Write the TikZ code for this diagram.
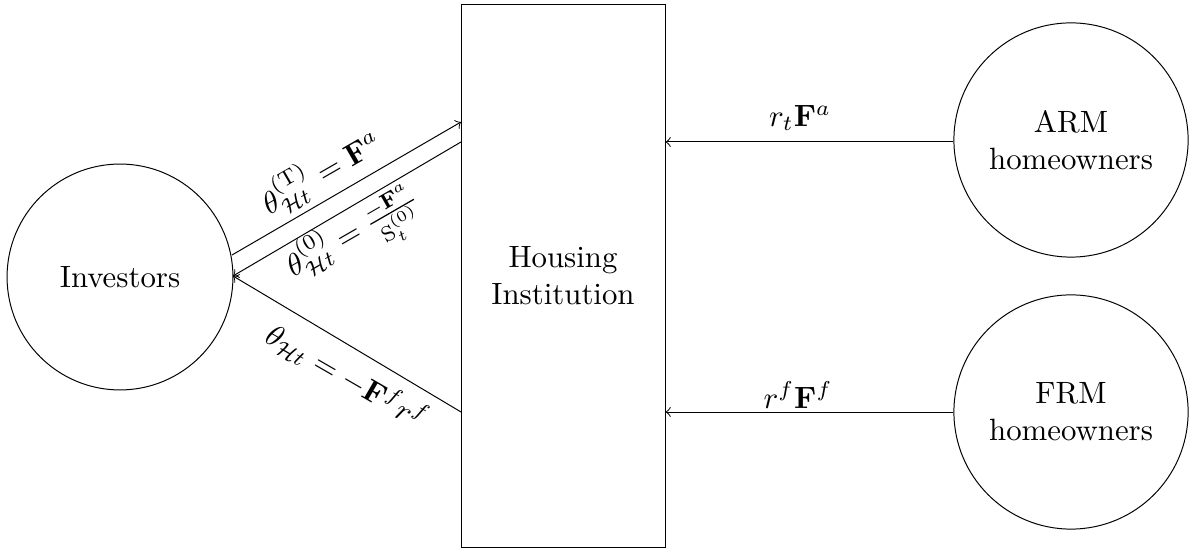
\documentclass[tikz,border=0pt]{standalone}
\usepackage{amsmath}
\begin{document}
\begin{tikzpicture}[x=0.3245pt,y=-0.3245pt,line width=0.32pt,
  party/.style={draw,circle,inner sep=0pt,align=center},
  inst/.style={draw,rectangle,inner sep=0pt,align=center,minimum width=66.2pt,minimum height=175.9pt},
  flow/.style={->}]
\useasboundingbox (0,0) rectangle (1190,550);
\node[party,minimum size=73.3pt] (inv) at (120,277) {Investors};
\node[inst] (house) at (563,276) {Housing\\Institution};
\node[party,minimum size=76pt] (arm) at (1071,140) {ARM\\homeowners};
\node[party,minimum size=76pt] (frm) at (1071,412) {FRM\\homeowners};
\coordinate (h1) at (461,122);
\coordinate (h2) at (461,142);
\coordinate (h3) at (461,412);
\coordinate (i1) at (232,255);
\coordinate (i2) at (233,276);
\draw[flow] (arm.west |- h2) -- (house.east |- h2);
\draw[flow] (frm.west) -- (frm.west -| house.east);
\draw[flow] (i1) -- (h1);
\draw[flow] (h2) -- (i2);
\draw[flow] (h3) -- (i2);
\node (l1) at (321,172) [rotate=30] {$\theta^{(\mathrm{T})}_{\mathcal{H}t} = \mathbf{F}^{a}$};
\node (l2) at (355,237) [rotate=30] {$\theta^{(0)}_{\mathcal{H}t} = \frac{-\mathbf{F}^{a}}{\mathrm{S}^{(0)}_{t}}$};
\node (l3) at (347,377) [rotate=-30] {$\theta_{\mathcal{H}t} = -\mathbf{F}^{f} r^{f}$};
\node (l4) at (800,118) {$r_t\mathbf{F}^{a}$};
\node (l5) at (798,395) {$r^{f}\mathbf{F}^{f}$};
\end{tikzpicture}
\end{document}
